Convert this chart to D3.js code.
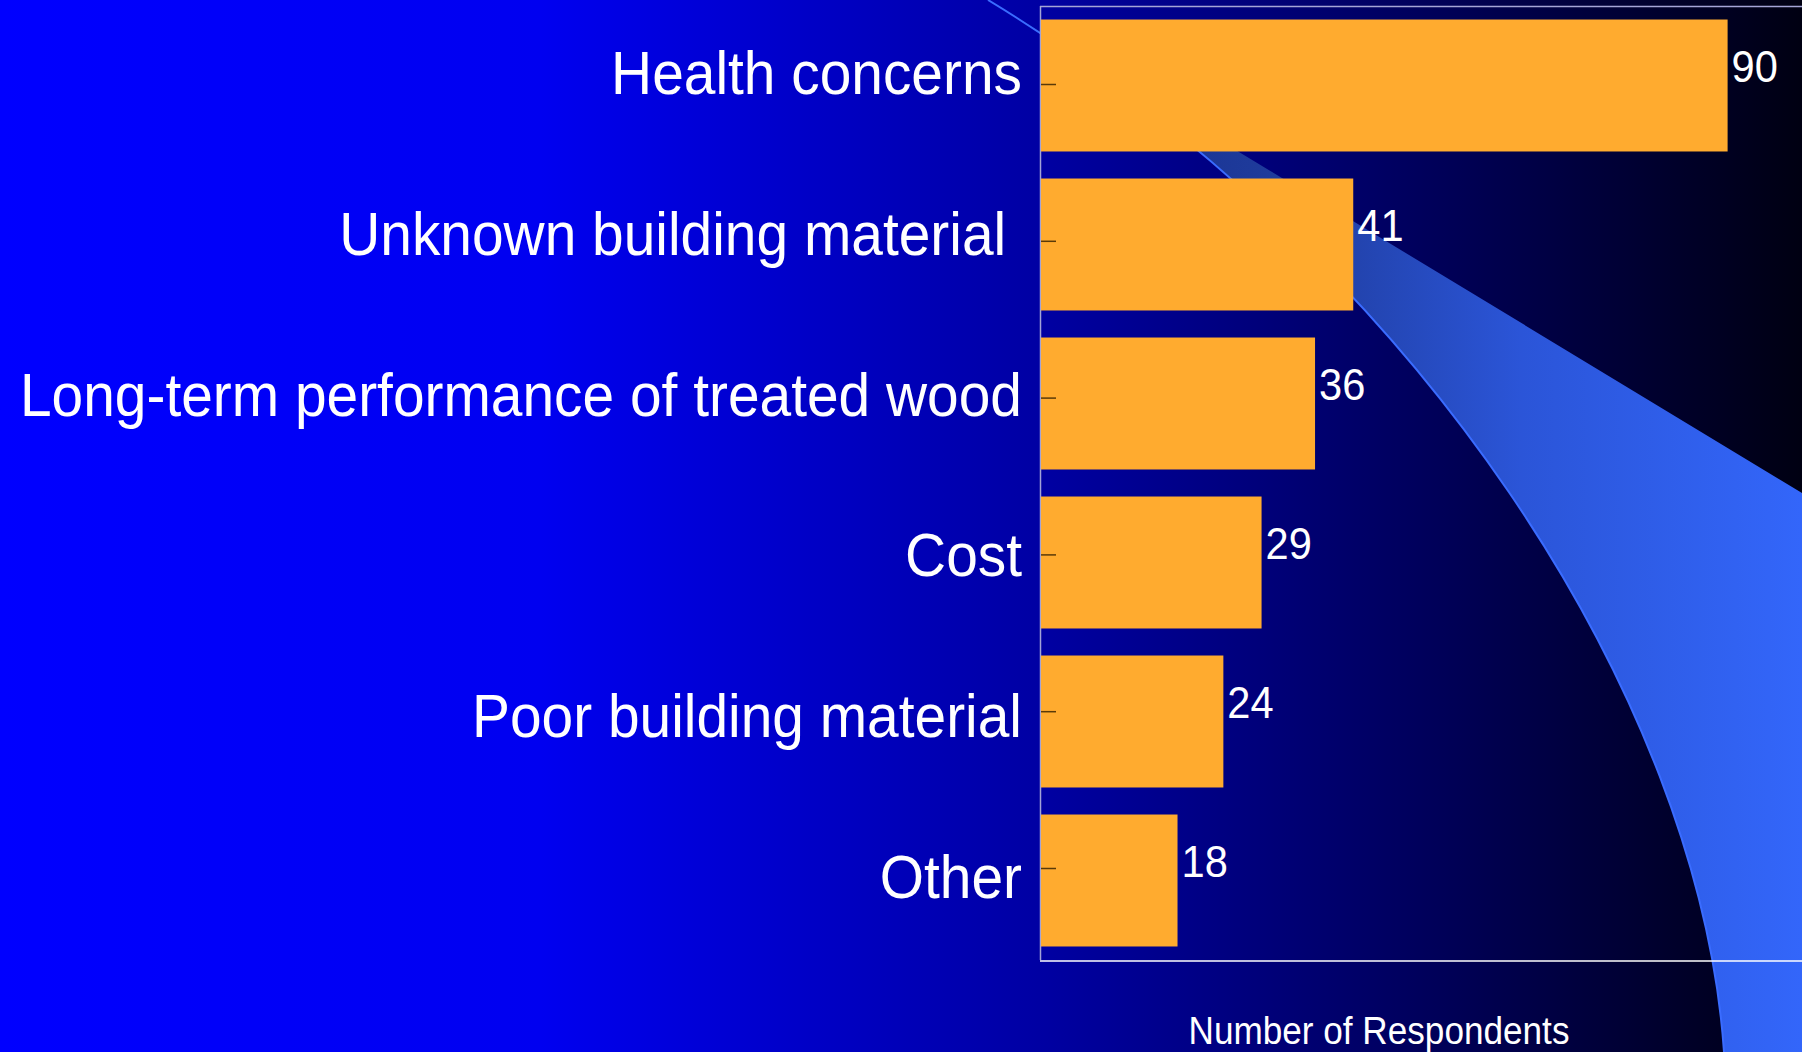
<!DOCTYPE html>
<html>
<head>
<meta charset="utf-8">
<script src="https://cdn.jsdelivr.net/npm/d3@7"></script>
<style>
  html, body { margin: 0; padding: 0; overflow: hidden; background: #000; }
  svg { display: block; font-family: "Liberation Sans", Arial, sans-serif; }
</style>
</head>
<body>
<div id="output"></div>
<script>
// Chart data
const categories = [
  "Health concerns",
  "Unknown building material ",
  "Long-term performance of treated wood",
  "Cost",
  "Poor building material",
  "Other"
];
const respondents = [90, 41, 36, 29, 24, 18];
const xDomain = [0, 100];
const axisTitle = "Number of Respondents";

function PlotGraph(parent_element = "output") {
  const width = 1802;
  const height = 1052;

  // Plot area (right edge runs just past the window)
  const plot = {left: 1040, right: 1804, top: 6, bottom: 960};
  // the slide text is slightly stretched vertically
  const squeeze = 0.925;

  const svg = d3.select("#" + parent_element).append("svg")
    .attr("width", width)
    .attr("height", height);

  const defs = svg.append("defs");

  // Background: blue fading to black
  const bg = defs.append("linearGradient")
    .attr("id", "bg")
    .attr("x1", "0").attr("x2", "1").attr("y1", "0").attr("y2", "0");
  [[0, "#0000ff"], [0.3, "#0000f0"], [0.58, "#0000a2"], [0.8, "#000058"], [1, "#000012"]]
    .forEach(([o, c]) => bg.append("stop").attr("offset", o).attr("stop-color", c));

  // Swoosh band gradient
  const sw = defs.append("linearGradient")
    .attr("id", "swoosh")
    .attr("gradientUnits", "userSpaceOnUse")
    .attr("x1", 1000).attr("x2", 1802).attr("y1", 0).attr("y2", 0);
  [[0, "#142a8a"], [0.35, "#1f3c9c"], [0.65, "#2b55d8"], [1, "#3366fa"]]
    .forEach(([o, c]) => sw.append("stop").attr("offset", o).attr("stop-color", c));

  svg.append("rect")
    .attr("width", width)
    .attr("height", height)
    .attr("fill", "url(#bg)");

  // Decorative swoosh (slide background)
  const band = d3.path();
  band.moveTo(988, 0);
  band.lineTo(1802, 493);
  band.lineTo(1802, 1052);
  band.lineTo(1724, 1052);
  band.bezierCurveTo(1700, 700, 1420, 262, 988, 0);
  band.closePath();
  svg.append("path")
    .attr("d", band.toString())
    .attr("fill", "url(#swoosh)");

  const edge = d3.path();
  edge.moveTo(988, 0);
  edge.bezierCurveTo(1420, 262, 1700, 700, 1724, 1052);
  svg.append("path")
    .attr("d", edge.toString())
    .attr("fill", "none")
    .attr("stroke", "#3a6cff")
    .attr("stroke-width", 2);

  // Scales
  const x = d3.scaleLinear().domain(xDomain).range([plot.left, plot.right]);
  const y = d3.scaleBand()
    .domain(categories)
    .range([plot.top, plot.bottom])
    .paddingInner(0.17)
    .paddingOuter(0.085);
  const yTick = d3.scalePoint().domain(categories).range([84, 868]);
  const yLabel = d3.scalePoint().domain(categories).range([94, 898]);

  const data = categories.map((c, i) => ({category: c, value: respondents[i]}));

  // Plot frame
  svg.append("line")
    .attr("x1", plot.left).attr("x2", width)
    .attr("y1", plot.top + 0.5).attr("y2", plot.top + 0.5)
    .attr("stroke", "#a4a4d6").attr("stroke-width", 1.5);
  svg.append("line")
    .attr("x1", plot.left + 0.5).attr("x2", plot.left + 0.5)
    .attr("y1", plot.top).attr("y2", plot.bottom)
    .attr("stroke", "#a4a4d6").attr("stroke-width", 1.5);
  svg.append("line")
    .attr("x1", plot.left).attr("x2", width)
    .attr("y1", plot.bottom + 1).attr("y2", plot.bottom + 1)
    .attr("stroke", "#ffffff").attr("stroke-width", 1.5);

  // Bars
  svg.selectAll(".bar")
    .data(data)
    .enter().append("rect")
    .attr("class", "bar")
    .attr("x", x(0) + 1)
    .attr("y", d => y(d.category))
    .attr("width", d => x(d.value) - x(0) - 1)
    .attr("height", y.bandwidth())
    .attr("fill", "#ffab2f");

  // Category ticks, drawn inward over the bars
  const tickAxis = svg.append("g")
    .attr("transform", `translate(${plot.left + 1},0)`)
    .call(d3.axisRight(yTick).tickSize(15).tickFormat(""));
  tickAxis.select(".domain").remove();
  tickAxis.selectAll(".tick line")
    .attr("stroke", "#5a3a08")
    .attr("stroke-width", 1.5);

  // Category labels
  svg.selectAll(".cat-label")
    .data(data)
    .enter().append("text")
    .attr("class", "cat-label")
    .attr("transform", d => `translate(1022,${yLabel(d.category)}) scale(${squeeze},1)`)
    .attr("text-anchor", "end")
    .style("white-space", "pre")
    .style("font-size", "61.5px")
    .attr("fill", "#ffffff")
    .text(d => d.category);

  // Value labels
  svg.selectAll(".val-label")
    .data(data)
    .enter().append("text")
    .attr("class", "val-label")
    .attr("transform", d =>
      `translate(${x(d.value) + 4},${y(d.category) + y.bandwidth() / 2 - 4}) scale(${squeeze},1)`)
    .style("font-size", "45px")
    .attr("fill", "#ffffff")
    .text(d => d.value);

  // X axis title
  svg.append("text")
    .attr("transform", `translate(1379,1044) scale(${squeeze},1)`)
    .attr("text-anchor", "middle")
    .style("font-size", "38px")
    .attr("fill", "#ffffff")
    .text(axisTitle);
}

document.addEventListener('DOMContentLoaded', (event) => {
  PlotGraph();
});
</script>
</body>
</html>
